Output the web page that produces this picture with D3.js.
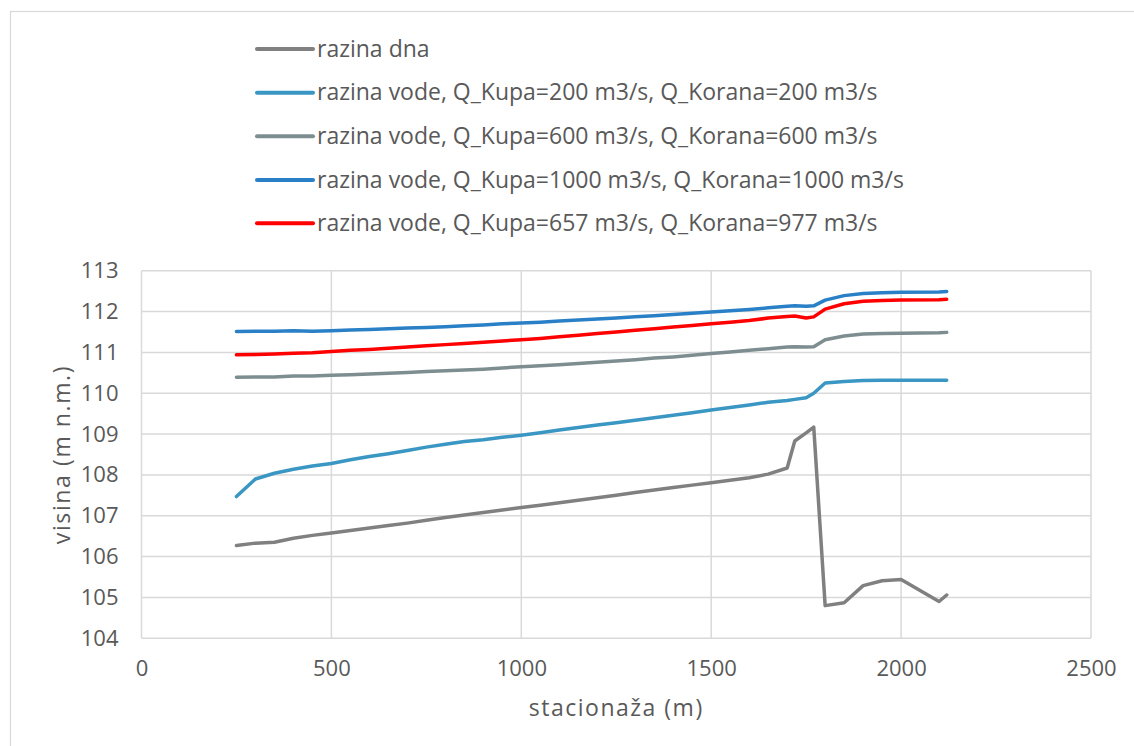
<!DOCTYPE html>
<html>
<head>
<meta charset="utf-8">
<script src="https://cdn.jsdelivr.net/npm/d3@7"></script>
<style>
  html, body { margin: 0; padding: 0; background: #ffffff; }
  svg { display: block; }
  text { font-family: "Open Sans", "Noto Sans", sans-serif; fill: #595959; }
</style>
</head>
<body>
<svg id="chart" width="1134" height="746"></svg>
<script>
// ---- data ----
const stations = [250, 300, 350, 400, 450, 500, 550, 600, 650, 700, 750, 800, 850, 900, 950,
  1000, 1050, 1100, 1150, 1200, 1250, 1300, 1350, 1400, 1450, 1500, 1550, 1600, 1650, 1700,
  1720, 1750, 1770, 1800, 1850, 1900, 1950, 2000, 2100, 2120];

const razinaDna = [106.27, 106.33, 106.35, 106.45, 106.52, 106.58, 106.64, 106.70, 106.76, 106.82,
  106.89, 106.96, 107.02, 107.08, 107.14, 107.20, 107.26, 107.32, 107.38, 107.44, 107.50, 107.57,
  107.63, 107.69, 107.75, 107.81, 107.87, 107.93, 108.02, 108.17, 108.83, 109.03, 109.17, 104.80,
  104.87, 105.29, 105.41, 105.44, 104.90, 105.06];

const vodaQ200 = [107.47, 107.90, 108.04, 108.14, 108.22, 108.28, 108.37, 108.45, 108.52, 108.60,
  108.68, 108.75, 108.82, 108.86, 108.92, 108.97, 109.03, 109.10, 109.16, 109.22, 109.28, 109.34,
  109.40, 109.46, 109.52, 109.59, 109.65, 109.71, 109.78, 109.82, 109.85, 109.89, 110.00, 110.25,
  110.29, 110.31, 110.32, 110.32, 110.32, 110.32];

const vodaQ600 = [110.39, 110.40, 110.40, 110.42, 110.42, 110.44, 110.45, 110.47, 110.49, 110.51,
  110.53, 110.55, 110.57, 110.59, 110.62, 110.65, 110.67, 110.70, 110.73, 110.76, 110.79, 110.82,
  110.86, 110.89, 110.93, 110.97, 111.01, 111.05, 111.09, 111.13, 111.14, 111.13, 111.14, 111.31,
  111.40, 111.45, 111.46, 111.47, 111.48, 111.49];

const vodaQ1000 = [111.51, 111.52, 111.52, 111.53, 111.52, 111.53, 111.55, 111.56, 111.58, 111.60,
  111.61, 111.63, 111.65, 111.67, 111.70, 111.72, 111.74, 111.77, 111.79, 111.82, 111.84, 111.87,
  111.90, 111.93, 111.96, 111.99, 112.02, 112.05, 112.09, 112.13, 112.14, 112.13, 112.14, 112.28,
  112.39, 112.44, 112.46, 112.47, 112.48, 112.49];

const vodaQ657 = [110.94, 110.95, 110.96, 110.98, 110.99, 111.02, 111.05, 111.07, 111.10, 111.13,
  111.16, 111.19, 111.22, 111.25, 111.28, 111.31, 111.34, 111.38, 111.42, 111.46, 111.50, 111.54,
  111.58, 111.62, 111.66, 111.70, 111.74, 111.78, 111.84, 111.88, 111.89, 111.84, 111.87, 112.06,
  112.19, 112.25, 112.27, 112.28, 112.29, 112.30];

const seriesNames = [
  "razina dna",
  "razina vode, Q_Kupa=200 m3/s, Q_Korana=200 m3/s",
  "razina vode, Q_Kupa=600 m3/s, Q_Korana=600 m3/s",
  "razina vode, Q_Kupa=1000 m3/s, Q_Korana=1000 m3/s",
  "razina vode, Q_Kupa=657 m3/s, Q_Korana=977 m3/s"
];
const seriesValues = [razinaDna, vodaQ200, vodaQ600, vodaQ1000, vodaQ657];
const seriesColors = ["#808080", "#3a96c2", "#7e8e90", "#2a80c6", "#ff0000"];

const xTicks = [0, 500, 1000, 1500, 2000, 2500];
const yTicks = [104, 105, 106, 107, 108, 109, 110, 111, 112, 113];
const xTitle = "stacionaža (m)";
const yTitle = "visina (m n.m.)";

// ---- layout ----
const svg = d3.select("#chart");
const W = 1134, H = 746;
const plot = { left: 141.5, right: 1091, top: 270.7, bottom: 638.3 };

// outer chart border
svg.append("rect")
  .attr("x", 10.5).attr("y", 11.5)
  .attr("width", W + 20).attr("height", H + 20)
  .attr("fill", "#ffffff").attr("stroke", "#d9d9d9").attr("stroke-width", 1.2);

const x = d3.scaleLinear().domain([0, 2500]).range([plot.left, plot.right]);
const y = d3.scaleLinear().domain([104, 113]).range([plot.bottom, plot.top]);

// gridlines
const grid = svg.append("g").attr("class", "grid");
grid.selectAll("line.h").data(yTicks).join("line")
  .attr("class", "h")
  .attr("x1", plot.left).attr("x2", plot.right)
  .attr("y1", d => y(d)).attr("y2", d => y(d))
  .attr("stroke", "#d9d9d9").attr("stroke-width", 1.5);
grid.selectAll("line.v").data(xTicks).join("line")
  .attr("class", "v")
  .attr("x1", d => x(d)).attr("x2", d => x(d))
  .attr("y1", plot.top).attr("y2", plot.bottom)
  .attr("stroke", "#d9d9d9").attr("stroke-width", 1.5);

// axes (labels only)
const xAxis = svg.append("g")
  .attr("transform", `translate(0,${plot.bottom})`)
  .call(d3.axisBottom(x).tickValues(xTicks).tickSize(0).tickPadding(22).tickFormat(d3.format("d")));
const yAxis = svg.append("g")
  .attr("transform", `translate(${plot.left},0)`)
  .call(d3.axisLeft(y).tickValues(yTicks).tickSize(0).tickPadding(23).tickFormat(d3.format("d")));
[xAxis, yAxis].forEach(a => {
  a.select(".domain").remove();
  a.selectAll("text")
    .attr("fill", "#595959")
    .style("font-family", '"Open Sans", "Noto Sans", sans-serif')
    .style("font-size", "22px");
});

// axis titles
svg.append("text")
  .attr("x", (plot.left + plot.right) / 2).attr("y", 716)
  .attr("text-anchor", "middle")
  .style("font-size", "23px")
  .style("letter-spacing", "1.5px")
  .text(xTitle);
svg.append("text")
  .attr("transform", `translate(70,${(plot.top + plot.bottom) / 2}) rotate(-90)`)
  .attr("text-anchor", "middle")
  .style("font-size", "23px")
  .style("letter-spacing", "1.6px")
  .text(yTitle);

// series lines
const line = d3.line()
  .x((d, i) => x(stations[i]))
  .y(d => y(d));
const lines = svg.append("g");
seriesValues.forEach((vals, k) => {
  lines.append("path")
    .datum(vals)
    .attr("d", line)
    .attr("fill", "none")
    .attr("stroke", seriesColors[k])
    .attr("stroke-width", 3.5)
    .attr("stroke-linejoin", "round")
    .attr("stroke-linecap", "round");
});

// legend
const legendY = [49, 92.7, 136.3, 180, 223.3];
const legend = svg.append("g");
seriesNames.forEach((name, k) => {
  legend.append("line")
    .attr("x1", 257).attr("x2", 313)
    .attr("y1", legendY[k]).attr("y2", legendY[k])
    .attr("stroke", seriesColors[k])
    .attr("stroke-width", 4)
    .attr("stroke-linecap", "round");
  legend.append("text")
    .attr("x", 317).attr("y", legendY[k])
    .attr("dy", "0.33em")
    .style("font-size", "23px")
    .text(name);
});
</script>
</body>
</html>
